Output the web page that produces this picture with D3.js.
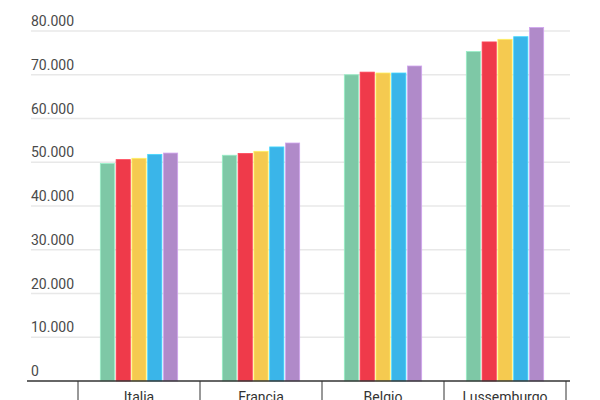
<!DOCTYPE html>
<html>
<head>
<meta charset="utf-8">
<script src="https://cdn.jsdelivr.net/npm/d3@7"></script>
<style>
  body { margin: 0; background: #fff; }
  text { font-family: Roboto, "Liberation Sans", sans-serif; }
</style>
</head>
<body>
<svg id="chart" width="600" height="400"></svg>
<script>
// dati
const countries = ["Italia", "Francia", "Belgio", "Lussemburgo"];
const series = ["2015", "2016", "2017", "2018", "2019"];
const colors = ["#7ec8a6", "#ef3a4a", "#f5ca50", "#3ab5e9", "#b08ac9"];
const values = [
  [49700, 50600, 50900, 51800, 52100], // Italia
  [51600, 52000, 52500, 53500, 54400], // Francia
  [70000, 70600, 70400, 70400, 72000], // Belgio
  [75300, 77500, 78100, 78700, 80800], // Lussemburgo
];
const yTicks = [0, 10000, 20000, 30000, 40000, 50000, 60000, 70000, 80000];

const svg = d3.select("#chart");
const margin = { left: 31, right: 570, top: 31, bottom: 381 };

const it = d3.formatLocale({ decimal: ",", thousands: ".", grouping: [3], currency: ["€", ""] });
const fmt = it.format(",");

// scale
const y = d3.scaleLinear().domain([0, 80000]).range([margin.bottom, margin.top]);
const x0 = d3.scaleBand().domain(countries).range([78, 566]).paddingInner(0.366).paddingOuter(0.183);
const x1 = d3.scaleBand().domain(series).range([0, x0.bandwidth()]).paddingInner(0.1);
const color = d3.scaleOrdinal().domain(series).range(colors);

// griglia
svg.append("g")
  .selectAll("line")
  .data(yTicks.filter(d => d > 0))
  .join("line")
  .attr("x1", margin.left)
  .attr("x2", margin.right)
  .attr("y1", d => y(d))
  .attr("y2", d => y(d))
  .attr("stroke", "#e8e8e8")
  .attr("stroke-width", 1.5);

// etichette asse y
svg.append("g")
  .selectAll("text")
  .data(yTicks)
  .join("text")
  .attr("x", margin.left)
  .attr("y", d => y(d) - 5)
  .attr("font-size", 14)
  .attr("fill", "#4a4a4a")
  .text(d => fmt(d));

// barre
const groups = svg.append("g")
  .selectAll("g")
  .data(countries)
  .join("g")
  .attr("transform", d => `translate(${x0(d)},0)`);

groups.selectAll("rect")
  .data((d, i) => series.map((s, j) => ({ s, v: values[i][j] })))
  .join("rect")
  .attr("x", d => x1(d.s))
  .attr("width", x1.bandwidth())
  .attr("y", d => y(d.v))
  .attr("height", d => y(0) - y(d.v))
  .attr("fill", d => color(d.s))
  .attr("stroke", d => d3.color(color(d.s)).brighter(0.5))
  .attr("stroke-width", 0.8);

// asse x
const xAxis = svg.append("g");
xAxis.append("line")
  .attr("x1", margin.left - 4)
  .attr("x2", margin.right)
  .attr("y1", margin.bottom)
  .attr("y2", margin.bottom)
  .attr("stroke", "#333")
  .attr("stroke-width", 1.5);

const step = x0.step();
const edges = countries.map(c => x0(c) - step * x0.paddingInner() / 2);
edges.push(edges[edges.length - 1] + step);

xAxis.selectAll(".tick")
  .data(edges)
  .join("line")
  .attr("class", "tick")
  .attr("x1", d => d)
  .attr("x2", d => d)
  .attr("y1", margin.bottom)
  .attr("y2", 400)
  .attr("stroke", "#333")
  .attr("stroke-width", 1);

xAxis.selectAll(".label")
  .data(countries)
  .join("text")
  .attr("class", "label")
  .attr("x", d => x0(d) + x0.bandwidth() / 2)
  .attr("y", 402)
  .attr("text-anchor", "middle")
  .attr("font-size", 14)
  .attr("fill", "#333")
  .text(d => d);
</script>
</body>
</html>
